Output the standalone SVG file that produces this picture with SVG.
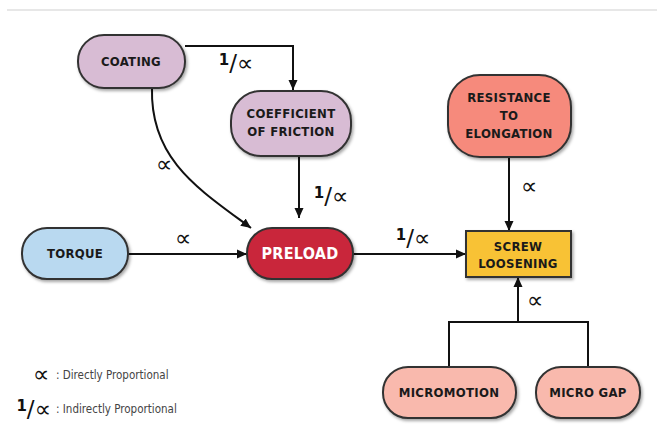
<svg xmlns="http://www.w3.org/2000/svg" width="657" height="448" viewBox="0 0 657 448">
<defs>
<marker id="ah" viewBox="0 0 10 10" refX="10" refY="5" markerWidth="10" markerHeight="10" markerUnits="userSpaceOnUse" orient="auto">
<path d="M0,0.5 L10,5 L0,9.5 Z" fill="#111"/>
</marker>
<filter id="sh" x="-10%" y="-10%" width="125%" height="130%">
<feDropShadow dx="1.5" dy="2" stdDeviation="1.5" flood-color="#000" flood-opacity="0.35"/>
</filter>
<style>
.n{stroke:#333;stroke-width:2;filter:url(#sh)}
.t{font-family:"DejaVu Sans Condensed","DejaVu Sans",sans-serif;font-weight:bold;font-size:13px;fill:#1a1a1a;text-anchor:middle;letter-spacing:0.3px}
.c{fill:none;stroke:#111;stroke-width:2}
.s{font-family:"DejaVu Sans",sans-serif;font-size:23px;fill:#111;text-anchor:middle}
.o{font-size:15px;font-weight:bold}
.l{font-family:"DejaVu Sans Condensed","DejaVu Sans",sans-serif;font-size:11.5px;fill:#444}
</style>
</defs>
<rect width="657" height="448" fill="#fff"/>
<line x1="7" y1="10" x2="657" y2="10" stroke="#d0d0d0" stroke-width="1.2"/>

<g id="connectors">
<path class="c" d="M185,46 H293 V90" marker-end="url(#ah)"/>
<path class="c" d="M152,88 C150,160 200,190 251,228" marker-end="url(#ah)"/>
<path class="c" d="M299,156 V218" marker-end="url(#ah)"/>
<path class="c" d="M128,254 H247" marker-end="url(#ah)"/>
<path class="c" d="M353,254 H466" marker-end="url(#ah)"/>
<path class="c" d="M509,157 V231" marker-end="url(#ah)"/>
<path class="c" d="M449,367 V322 H588 V367 M518,322 V277" marker-end="url(#ah)"/>
<text class="s" x="236" y="71"><tspan class="o" dy="-6">1</tspan><tspan dy="6">/∝</tspan></text>
<text class="s" x="164" y="172">∝</text>
<text class="s" x="331" y="204"><tspan class="o" dy="-6">1</tspan><tspan dy="6">/∝</tspan></text>
<text class="s" x="183" y="246">∝</text>
<text class="s" x="413" y="246"><tspan class="o" dy="-6">1</tspan><tspan dy="6">/∝</tspan></text>
<text class="s" x="529" y="194">∝</text>
<text class="s" x="535" y="308">∝</text>
</g>

<g id="coating">
<rect class="n" x="78" y="35" width="107" height="53" rx="26" fill="#d8bcd4"/>
<text class="t" x="131" y="66">COATING</text>
</g>
<g id="coefficient">
<rect class="n" x="231" y="91" width="120" height="65" rx="30" fill="#d8bcd4"/>
<text class="t" x="291" y="118">COEFFICIENT</text>
<text class="t" x="291" y="136">OF FRICTION</text>
</g>
<g id="torque">
<rect class="n" x="22" y="228" width="106" height="51" rx="25" fill="#b9d9f0"/>
<text class="t" x="75" y="258">TORQUE</text>
</g>
<g id="preload">
<rect class="n" x="247" y="228" width="106" height="51" rx="25" fill="#c9273a"/>
<text class="t" x="300" y="259" style="fill:#fff;font-size:16px">PRELOAD</text>
</g>
<g id="resistance">
<rect class="n" x="448" y="75" width="123" height="82" rx="32" fill="#f68a7b"/>
<text class="t" x="509" y="102">RESISTANCE</text>
<text class="t" x="509" y="120">TO</text>
<text class="t" x="509" y="138">ELONGATION</text>
</g>
<g id="screw">
<rect class="n" x="466" y="231" width="105" height="46" fill="#f8c234"/>
<text class="t" x="518" y="251">SCREW</text>
<text class="t" x="518" y="268">LOOSENING</text>
</g>
<g id="micromotion">
<rect class="n" x="383" y="367" width="133" height="51" rx="25" fill="#f9b9ad"/>
<text class="t" x="449" y="397">MICROMOTION</text>
</g>
<g id="microgap">
<rect class="n" x="536" y="367" width="104" height="51" rx="25" fill="#f9b9ad"/>
<text class="t" x="588" y="397">MICRO GAP</text>
</g>

<g id="legend">
<text class="s" x="41" y="382">∝</text>
<text class="l" x="56" y="379">: Directly Proportional</text>
<text class="s" x="51" y="417" style="text-anchor:end"><tspan class="o" dy="-6">1</tspan><tspan dy="6">/∝</tspan></text>
<text class="l" x="56" y="413">: Indirectly Proportional</text>
</g>
</svg>
